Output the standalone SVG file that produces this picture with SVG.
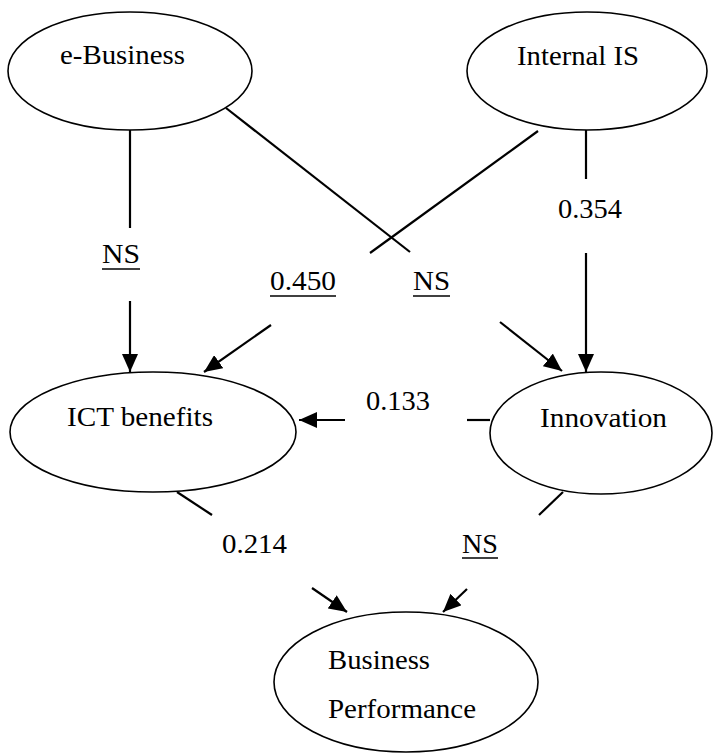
<svg xmlns="http://www.w3.org/2000/svg" width="723" height="753" viewBox="0 0 723 753">
  <style>
    .node ellipse { fill: #ffffff; stroke: #000000; stroke-width: 1.6; }
    text { font-family: 'Times New Roman', Times, 'Liberation Serif', Tinos, 'Noto Serif', 'DejaVu Serif', FreeSerif, serif; font-size: 27px; fill: #000000; }
    .edge { stroke: #000000; stroke-width: 2.2; fill: none; }
    .ul { stroke: #000000; stroke-width: 1.6; }
  </style>
  <defs>
    <marker id="head" viewBox="0 0 18 16" refX="18" refY="8" markerWidth="18" markerHeight="16" markerUnits="userSpaceOnUse" orient="auto">
      <path d="M0,0 L18,8 L0,16 z" fill="#000000"/>
    </marker>
  </defs>

  <!-- connectors: each path is broken where its coefficient label sits -->
  <g id="connectors">
    <!-- e-Business -> ICT benefits -->
    <line class="edge" x1="130" y1="130" x2="130" y2="228"/>
    <line class="edge" x1="130" y1="301" x2="130" y2="372" marker-end="url(#head)"/>
    <!-- e-Business -> Innovation -->
    <line class="edge" x1="226" y1="108" x2="410" y2="252"/>
    <line class="edge" x1="500" y1="322" x2="562" y2="371" marker-end="url(#head)"/>
    <!-- Internal IS -> ICT benefits -->
    <line class="edge" x1="538" y1="131" x2="370" y2="253"/>
    <line class="edge" x1="271" y1="325" x2="204" y2="372" marker-end="url(#head)"/>
    <!-- Internal IS -> Innovation -->
    <line class="edge" x1="586" y1="130" x2="586" y2="179"/>
    <line class="edge" x1="586" y1="253" x2="586" y2="372" marker-end="url(#head)"/>
    <!-- Innovation -> ICT benefits -->
    <line class="edge" x1="490" y1="420" x2="467" y2="420"/>
    <line class="edge" x1="345" y1="420" x2="299" y2="420" marker-end="url(#head)"/>
    <!-- ICT benefits -> Business Performance -->
    <line class="edge" x1="177" y1="492" x2="212" y2="515"/>
    <line class="edge" x1="312" y1="588" x2="347" y2="612" marker-end="url(#head)"/>
    <!-- Innovation -> Business Performance -->
    <line class="edge" x1="563" y1="492" x2="539" y2="515"/>
    <line class="edge" x1="467" y1="589" x2="443" y2="612" marker-end="url(#head)"/>
  </g>

  <!-- coefficient labels -->
  <g id="edge-labels">
    <text x="102" y="263" textLength="38" lengthAdjust="spacingAndGlyphs">NS</text>
    <line class="ul" x1="102" y1="269" x2="140" y2="269"/>
    <text x="270" y="290" textLength="66" lengthAdjust="spacingAndGlyphs">0.450</text>
    <line class="ul" x1="270" y1="296" x2="336" y2="296"/>
    <text x="413" y="290" textLength="37" lengthAdjust="spacingAndGlyphs">NS</text>
    <line class="ul" x1="413" y1="296" x2="450" y2="296"/>
    <text x="558" y="218" textLength="64" lengthAdjust="spacingAndGlyphs">0.354</text>
    <text x="366" y="410" textLength="64" lengthAdjust="spacingAndGlyphs">0.133</text>
    <text x="222" y="553" textLength="65" lengthAdjust="spacingAndGlyphs">0.214</text>
    <text x="462" y="553" textLength="36" lengthAdjust="spacingAndGlyphs">NS</text>
    <line class="ul" x1="462" y1="558" x2="498" y2="558"/>
  </g>

  <g id="node-ebusiness" class="node">
    <ellipse cx="130" cy="71" rx="122" ry="59"/>
    <text x="60" y="64" textLength="125" lengthAdjust="spacingAndGlyphs">e-Business</text>
  </g>
  <g id="node-internal-is" class="node">
    <ellipse cx="587" cy="71" rx="120" ry="59"/>
    <text x="517" y="65" textLength="122" lengthAdjust="spacingAndGlyphs">Internal IS</text>
  </g>
  <g id="node-ict-benefits" class="node">
    <ellipse cx="153" cy="432" rx="143" ry="60"/>
    <text x="67" y="426" textLength="146" lengthAdjust="spacingAndGlyphs">ICT benefits</text>
  </g>
  <g id="node-innovation" class="node">
    <ellipse cx="601" cy="433" rx="111" ry="61"/>
    <text x="540" y="427" textLength="127" lengthAdjust="spacingAndGlyphs">Innovation</text>
  </g>
  <g id="node-business-performance" class="node">
    <ellipse cx="406" cy="682" rx="132" ry="70"/>
    <text x="328" y="669" textLength="102" lengthAdjust="spacingAndGlyphs">Business</text>
    <text x="328" y="718" textLength="148" lengthAdjust="spacingAndGlyphs">Performance</text>
  </g>
</svg>
